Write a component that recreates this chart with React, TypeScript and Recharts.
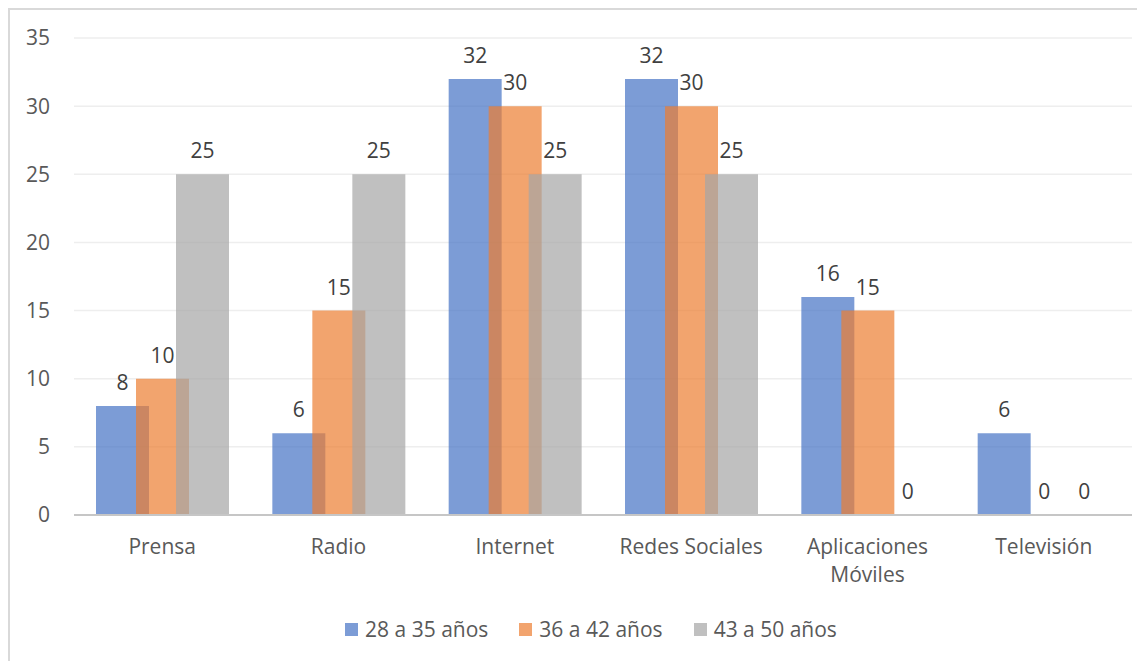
import React from "react";
import {
  BarChart,
  Bar,
  XAxis,
  YAxis,
  CartesianGrid,
  Legend,
  Rectangle,
} from "recharts";

const categories = [
  "Prensa",
  "Radio",
  "Internet",
  "Redes Sociales",
  "Aplicaciones Móviles",
  "Televisión",
];
const age28to35 = [8, 6, 32, 32, 16, 6];
const age36to42 = [10, 15, 30, 30, 15, 0];
const age43to50 = [25, 25, 25, 25, 0, 0];
const yTicks = [0, 5, 10, 15, 20, 25, 30, 35];

const seriesNames = ["28 a 35 años", "36 a 42 años", "43 a 50 años"];
const seriesColors = ["#4472C4", "#ED7D31", "#A5A5A5"];
const seriesKeys = ["a", "b", "c"];

const data = categories.map((name, i) => ({
  name,
  a: age28to35[i],
  b: age36to42[i],
  c: age43to50[i],
}));

const FONT = "'Open Sans', sans-serif";

// Category labels: long names break onto a second line
const CategoryTick = (props: any) => {
  const { x, y, payload } = props;
  const label: string = payload.value;
  const words = label.split(" ");
  const lines =
    label.length > 16 && words.length > 1
      ? [words.slice(0, -1).join(" "), words[words.length - 1]]
      : [label];
  return (
    <text
      x={x}
      y={y}
      textAnchor="middle"
      fill="#595959"
      fontFamily={FONT}
      fontSize={21}
    >
      {lines.map((l, i) => (
        <tspan key={i} x={x} dy={i === 0 ? 0 : 28}>
          {l}
        </tspan>
      ))}
    </text>
  );
};

// Bar body plus its value label; zero-height bars still get their "0"
const makeBarShape = (key: string) => (props: any) => {
  const { x, y, width, height, payload } = props;
  const value = payload ? payload[key] : props.value;
  return (
    <g>
      <Rectangle {...props} />
      <text
        x={Number(x) + Number(width) / 2}
        y={Number(y) - 16}
        textAnchor="middle"
        fill="#404040"
        fontFamily={FONT}
        fontSize={21}
      >
        {value}
      </text>
    </g>
  );
};

const LegendContent = () => (
  <div
    style={{
      display: "flex",
      justifyContent: "center",
      alignItems: "center",
      height: 30,
      marginLeft: 40,
      fontFamily: FONT,
      fontSize: 21,
      color: "#595959",
    }}
  >
    {seriesNames.map((n, i) => (
      <div
        key={n}
        style={{ display: "flex", alignItems: "center", marginRight: i < 2 ? 31 : 0 }}
      >
        <span
          style={{
            display: "inline-block",
            width: 13,
            height: 13,
            background: seriesColors[i],
            opacity: 0.7,
            marginRight: 7,
          }}
        />
        <span>{n}</span>
      </div>
    ))}
  </div>
);

export default function App() {
  return (
    <div
      style={{
        width: 1150,
        height: 665,
        border: "2px solid #d9d9d9",
        boxSizing: "border-box",
        background: "#fff",
      }}
    >
      <BarChart
        width={1140}
        height={650}
        data={data}
        margin={{ top: 28, right: 18, bottom: 16, left: 0 }}
        barSize={53}
        barGap={-13}
      >
        <CartesianGrid vertical={false} stroke="#eeeeee" strokeWidth={1.5} />
        <XAxis
          dataKey="name"
          height={99}
          axisLine={{ stroke: "#c6c6c6", strokeWidth: 2 }}
          tickLine={false}
          tick={<CategoryTick />}
          interval={0}
          tickSize={0}
          tickMargin={39}
        />
        <YAxis
          width={64}
          domain={[0, 35]}
          ticks={yTicks}
          axisLine={false}
          tickLine={false}
          tickSize={6}
          tickMargin={18}
          tick={{ fill: "#595959", fontFamily: FONT, fontSize: 21 }}
        />
        <Legend verticalAlign="bottom" content={<LegendContent />} />
        {seriesKeys.map((k, i) => (
          <Bar
            key={k}
            dataKey={k}
            name={seriesNames[i]}
            fill={seriesColors[i]}
            fillOpacity={0.7}
            isAnimationActive={false}
            shape={makeBarShape(k)}
          />
        ))}
      </BarChart>
    </div>
  );
}
